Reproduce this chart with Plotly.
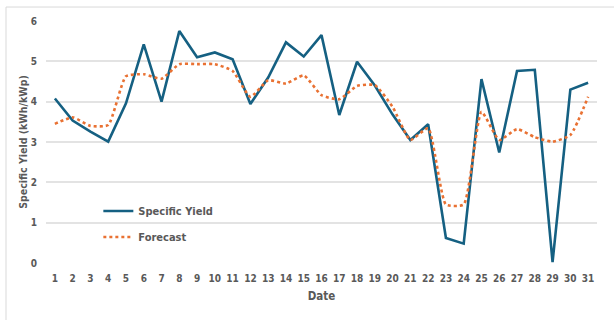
import plotly.graph_objects as go

# Daily values for the month
days = list(range(1, 32))
specific_yield = [4.08, 3.53, 3.26, 3.01, 3.96, 5.42, 4.00, 5.75, 5.10, 5.22,
                  5.05, 3.94, 4.60, 5.47, 5.12, 5.65, 3.67, 4.99, 4.40, 3.68,
                  3.05, 3.44, 0.62, 0.48, 4.56, 2.74, 4.76, 4.79, 0.02, 4.30,
                  4.47]
forecast = [3.45, 3.61, 3.40, 3.42, 4.63, 4.68, 4.57, 4.93, 4.93, 4.93,
            4.76, 4.12, 4.53, 4.45, 4.65, 4.16, 4.06, 4.39, 4.41, 3.87,
            3.05, 3.34, 1.45, 1.45, 3.75, 3.05, 3.32, 3.12, 3.01, 3.17,
            4.12]
y_ticks = [0, 1, 2, 3, 4, 5, 6]

FONT = "Liberation Sans Narrow, DejaVu Sans Condensed, Roboto, sans-serif"
TEXT = "#595959"
GRID = "#e3e3e3"

fig = go.Figure()
fig.add_trace(go.Scatter(
    x=days, y=specific_yield, name="Specific Yield", mode="lines",
    legendgroup="a",
    line=dict(color="#156082", width=2.6),
))
fig.add_trace(go.Scatter(
    x=days, y=forecast, name="Forecast", mode="lines",
    legendgroup="b",
    line=dict(color="#e97132", width=2.6, dash="dot", shape="spline",
              smoothing=0.5),
))

fig.update_layout(
    width=614, height=320,
    margin=dict(l=46, r=17, t=21, b=57),
    paper_bgcolor="white", plot_bgcolor="white",
    font=dict(family=FONT, color=TEXT, size=10),
    showlegend=True,
    legend=dict(
        x=0.095, y=0.275, xanchor="left", yanchor="top",
        bgcolor="rgba(0,0,0,0)", itemwidth=30, tracegroupgap=7,
        font=dict(size=11, color=TEXT, family=FONT, weight="bold"),
    ),
    xaxis=dict(
        range=[0.5, 31.5], tickmode="array", tickvals=days,
        showgrid=False, zeroline=False, showline=False,
        ticks="outside", ticklen=6, tickcolor="rgba(0,0,0,0)",
        tickfont=dict(size=10, color=TEXT, family=FONT, weight="bold"),
        title=dict(text="Date", standoff=8,
                   font=dict(size=11.5, color=TEXT, family=FONT, weight="bold")),
    ),
    yaxis=dict(
        range=[0, 6], tickmode="array", tickvals=y_ticks,
        showgrid=True, gridcolor=GRID, gridwidth=1.5,
        zeroline=False, showline=False,
        ticks="outside", ticklen=6, tickcolor="rgba(0,0,0,0)",
        tickfont=dict(size=10, color=TEXT, family=FONT, weight="bold"),
        title=dict(text="Specific Yield (kWh/kWp)", standoff=1,
                   font=dict(size=10.5, color=TEXT, family=FONT, weight="bold")),
    ),
    shapes=[dict(
        type="rect", xref="paper", yref="paper",
        x0=-40 / 551, x1=1.2, y0=-0.4, y1=1 + 14 / 242.6,
        line=dict(color="#d9d9d9", width=1), layer="below",
    )],
)

fig.write_html("out.html")
